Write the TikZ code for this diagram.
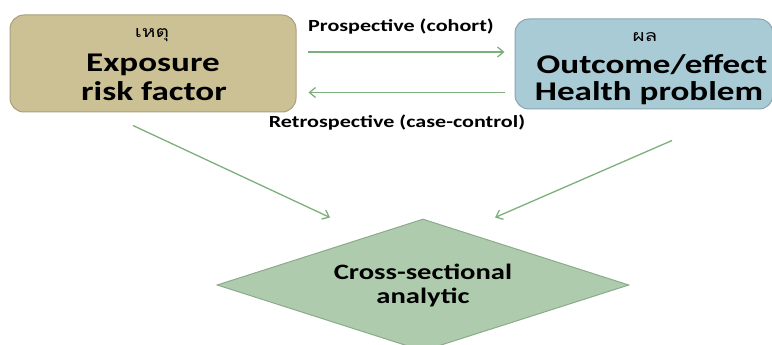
\documentclass[tikz,border=0pt]{standalone}
\usepackage{fontspec}
\setmainfont{Carlito}[FakeStretch=1.3]
\newfontfamily\thaifont[Script=Thai,FakeStretch=1.3]{Loma}
\usepackage{tikz}
\usetikzlibrary{calc, arrows.meta, shapes.geometric}
\definecolor{causefill}{RGB}{203,193,148}
\definecolor{causeline}{RGB}{168,160,124}
\definecolor{effectfill}{RGB}{169,203,213}
\definecolor{effectline}{RGB}{135,165,175}
\definecolor{crossfill}{RGB}{174,203,173}
\definecolor{crossline}{RGB}{140,170,140}
\definecolor{arrowgreen}{RGB}{125,175,125}
\begin{document}
\begin{tikzpicture}[x=1pt, y=-1pt,
  box/.style={rounded corners=14pt, line width=1pt, inner sep=0pt},
  bigtext/.style={anchor=base, inner sep=0pt, font=\bfseries\fontsize{27}{27}\selectfont},
  thaitext/.style={anchor=base, inner sep=0pt, font=\thaifont\fontsize{16}{16}\selectfont},
  lbl/.style={anchor=base, inner sep=0pt, font=\bfseries\fontsize{17}{17}\selectfont},
  flow/.style={draw=arrowgreen, line width=1.3pt, -{Straight Barb[length=6pt,width=10pt]}}]
\useasboundingbox (0,0) rectangle (772,345);
% the two boxes
\node[box, draw=causeline, fill=causefill, minimum width=286pt, minimum height=97pt] (cause) at (153,63.5) {};
\node[box, draw=effectline, fill=effectfill, minimum width=258pt, minimum height=90pt] (effect) at (644,64) {};
\node[thaitext] (cause-th) at (152,38) {เหตุ};
\node[bigtext] (cause-1) at (153,72) {Exposure};
\node[bigtext] (cause-2) at (154,100) {risk factor};
\node[thaitext] (effect-th) at (645,42) {ผล};
\node[bigtext] (effect-1) at (652,74) {Outcome/effect};
\node[bigtext] (effect-2) at (649,100) {Health problem};
% the diamond
\node[shape=diamond, aspect=3, inner sep=0pt, draw=crossline, fill=crossfill, line width=1pt,
  minimum width=412pt, minimum height=132pt, align=center,
  font=\bfseries\fontsize{22}{24}\selectfont] (cross) at (423,285) {Cross-sectional\\analytic};
% arrows between the boxes
\coordinate (pro) at (0,52);
\coordinate (retro) at (0,92.5);
\draw[flow, shorten <=11pt, shorten >=10pt] (cause.east |- pro) -- (effect.west |- pro);
\draw[flow, shorten <=10pt, shorten >=12pt] (effect.west |- retro) -- (cause.east |- retro);
\node[lbl] (pro-lbl) at (401,32) {Prospective (cohort)};
\node[lbl] (retro-lbl) at (397,128) {Retrospective (case-control)};
% arrows down to the diamond
\draw[flow] ($(cause.south)+(-20,13)$) -- ($(cross.north)+(-93,-1)$);
\draw[flow] ($(effect.south)+(28,31)$) -- ($(cross.north)+(72,-1)$);
\end{tikzpicture}
\end{document}
